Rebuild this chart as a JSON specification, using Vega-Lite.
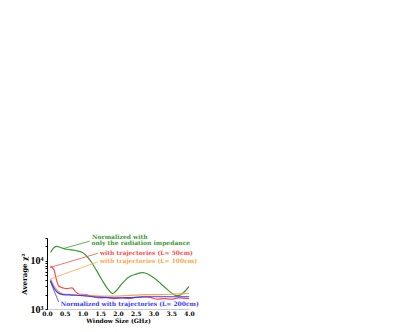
{
  "$schema": "https://vega.github.io/schema/vega-lite/v6.json",
  "autosize": {"type": "none"},
  "padding": {"left": 47, "top": 238, "right": 226, "bottom": 23},
  "width": 142,
  "height": 71,
  "background": "white",
  "config": {"view": {"stroke": null}},
  "datasets": {
    "curves": [
      {"s": "green", "f": 0.1, "v": 15000}, {"s": "green", "f": 0.2, "v": 19000}, {"s": "green", "f": 0.28, "v": 20000}, {"s": "green", "f": 0.4, "v": 18800}, {"s": "green", "f": 0.55, "v": 17500}, {"s": "green", "f": 0.8, "v": 16500}, {"s": "green", "f": 1.0, "v": 15000}, {"s": "green", "f": 1.1, "v": 13000}, {"s": "green", "f": 1.25, "v": 9500}, {"s": "green", "f": 1.4, "v": 6200}, {"s": "green", "f": 1.55, "v": 4000}, {"s": "green", "f": 1.7, "v": 2700}, {"s": "green", "f": 1.85, "v": 2100}, {"s": "green", "f": 1.95, "v": 2400}, {"s": "green", "f": 2.1, "v": 3300}, {"s": "green", "f": 2.3, "v": 4600}, {"s": "green", "f": 2.5, "v": 5300}, {"s": "green", "f": 2.7, "v": 5700}, {"s": "green", "f": 2.85, "v": 5300}, {"s": "green", "f": 3.0, "v": 4500}, {"s": "green", "f": 3.2, "v": 3400}, {"s": "green", "f": 3.4, "v": 2500}, {"s": "green", "f": 3.6, "v": 1950}, {"s": "green", "f": 3.7, "v": 1900}, {"s": "green", "f": 3.85, "v": 2200}, {"s": "green", "f": 4.0, "v": 2950},
      {"s": "red", "f": 0.1, "v": 7800}, {"s": "red", "f": 0.2, "v": 6500}, {"s": "red", "f": 0.25, "v": 4500}, {"s": "red", "f": 0.33, "v": 3000}, {"s": "red", "f": 0.45, "v": 2750}, {"s": "red", "f": 0.55, "v": 2650}, {"s": "red", "f": 0.7, "v": 2750}, {"s": "red", "f": 0.8, "v": 2300}, {"s": "red", "f": 0.9, "v": 2050}, {"s": "red", "f": 1.1, "v": 2000}, {"s": "red", "f": 1.3, "v": 1800}, {"s": "red", "f": 1.5, "v": 1700}, {"s": "red", "f": 1.7, "v": 1750}, {"s": "red", "f": 1.9, "v": 1650}, {"s": "red", "f": 2.1, "v": 1700}, {"s": "red", "f": 2.3, "v": 1650}, {"s": "red", "f": 2.5, "v": 1750}, {"s": "red", "f": 2.7, "v": 1800}, {"s": "red", "f": 2.9, "v": 1750}, {"s": "red", "f": 3.1, "v": 1600}, {"s": "red", "f": 3.3, "v": 1650}, {"s": "red", "f": 3.5, "v": 1600}, {"s": "red", "f": 3.7, "v": 1700}, {"s": "red", "f": 4.0, "v": 1650},
      {"s": "orange", "f": 0.1, "v": 4200}, {"s": "orange", "f": 0.2, "v": 3000}, {"s": "orange", "f": 0.3, "v": 2400}, {"s": "orange", "f": 0.45, "v": 2050}, {"s": "orange", "f": 0.7, "v": 2000}, {"s": "orange", "f": 1.0, "v": 1950}, {"s": "orange", "f": 1.3, "v": 1900}, {"s": "orange", "f": 1.6, "v": 1850}, {"s": "orange", "f": 1.9, "v": 1850}, {"s": "orange", "f": 2.2, "v": 1900}, {"s": "orange", "f": 2.5, "v": 1950}, {"s": "orange", "f": 2.8, "v": 2000}, {"s": "orange", "f": 3.2, "v": 2000}, {"s": "orange", "f": 3.6, "v": 2050}, {"s": "orange", "f": 4.0, "v": 2100},
      {"s": "blue", "f": 0.1, "v": 3900}, {"s": "blue", "f": 0.2, "v": 2700}, {"s": "blue", "f": 0.3, "v": 2200}, {"s": "blue", "f": 0.45, "v": 2000}, {"s": "blue", "f": 0.7, "v": 1950}, {"s": "blue", "f": 1.0, "v": 1900}, {"s": "blue", "f": 1.3, "v": 1800}, {"s": "blue", "f": 1.6, "v": 1750}, {"s": "blue", "f": 1.9, "v": 1700}, {"s": "blue", "f": 2.2, "v": 1720}, {"s": "blue", "f": 2.5, "v": 1750}, {"s": "blue", "f": 2.8, "v": 1800}, {"s": "blue", "f": 3.2, "v": 1800}, {"s": "blue", "f": 3.6, "v": 1800}, {"s": "blue", "f": 4.0, "v": 1800}
    ],
    "leaders": [
      {"s": "green", "id": "g", "f": 0.45, "v": 18000}, {"s": "green", "id": "g", "f": 1.2, "v": 25800},
      {"s": "red", "id": "r", "f": 0.085, "v": 7300}, {"s": "red", "id": "r", "f": 1.43, "v": 14400},
      {"s": "orange", "id": "o", "f": 0.085, "v": 4170}, {"s": "orange", "id": "o", "f": 1.43, "v": 9600},
      {"s": "blue", "id": "b", "f": 0.085, "v": 3850}, {"s": "blue", "id": "b", "f": 0.33, "v": 1400}
    ],
    "labels": [
      {"s": "green", "f": 1.27, "v": 30900, "t": "Normalized with"},
      {"s": "green", "f": 1.25, "v": 23500, "t": "only the radiation impedance"},
      {"s": "red", "f": 1.49, "v": 14600, "t": "with trajectories (L= 50cm)"},
      {"s": "orange", "f": 1.49, "v": 9800, "t": "with trajectories (L= 100cm)"},
      {"s": "blue", "f": 0.385, "v": 1250, "t": "Normalized with trajectories (L= 200cm)"}
    ]
  },
  "encoding": {
    "x": {
      "field": "f", "type": "quantitative",
      "scale": {"domain": [0, 4], "nice": false, "zero": false},
      "axis": {
        "title": "Window Size (GHz)", "values": [0, 0.5, 1, 1.5, 2, 2.5, 3, 3.5, 4], "format": ".1f",
        "ticks": false, "grid": false, "domainColor": "#999", "domainWidth": 0.5,
        "labelFlush": false, "labelOverlap": false,
        "labelFont": "DejaVu Serif", "labelFontWeight": "bold", "labelFontSize": 6, "labelColor": "black", "labelPadding": 1,
        "titleFont": "DejaVu Serif", "titleFontWeight": "bold", "titleFontSize": 6, "titleColor": "black", "titlePadding": 1
      }
    },
    "y": {
      "field": "v", "type": "quantitative",
      "scale": {"type": "log", "domain": [1000, 30000], "nice": false},
      "axis": {
        "title": "Average χ²", "values": [1000, 2000, 3000, 4000, 5000, 6000, 7000, 8000, 9000, 10000, 20000, 30000],
        "labelExpr": "datum.value == 1000 ? '10³' : (datum.value == 10000 ? '10⁴' : '')",
        "grid": false, "tickSize": 2, "tickColor": "black", "domainColor": "black", "domainWidth": 1,
        "labelFlush": false, "labelOverlap": false,
        "labelFont": "Liberation Serif", "labelFontWeight": "bold", "labelFontSize": 10, "labelColor": "black", "labelPadding": 2,
        "titleFont": "DejaVu Serif", "titleFontWeight": "bold", "titleFontSize": 7, "titleColor": "black", "titlePadding": 3
      }
    },
    "color": {
      "field": "s", "type": "nominal", "legend": null,
      "scale": {"domain": ["green", "red", "orange", "blue"], "range": ["#3a9a35", "#ff4a4a", "#ffa545", "#3a3aff"]}
    }
  },
  "layer": [
    {"data": {"name": "curves"}, "mark": {"type": "line", "strokeWidth": 1.2, "interpolate": "monotone", "clip": true}, "encoding": {"detail": {"field": "s"}}},
    {"data": {"name": "leaders"}, "mark": {"type": "line", "strokeWidth": 0.8}, "encoding": {"detail": {"field": "id"}}},
    {"data": {"name": "labels"}, "mark": {"type": "text", "align": "left", "baseline": "middle", "font": "DejaVu Serif", "fontWeight": "bold", "fontSize": 6}, "encoding": {"text": {"field": "t"}}}
  ]
}
